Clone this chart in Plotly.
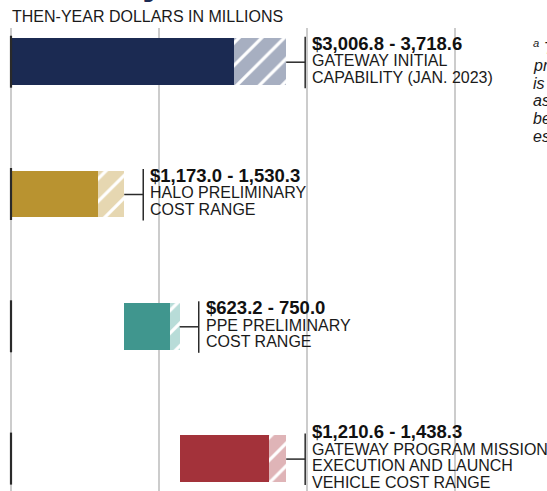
import plotly.graph_objects as go

# ---- data ----
categories = ["GATEWAY INITIAL<br>CAPABILITY (JAN. 2023)",
              "HALO PRELIMINARY<br>COST RANGE",
              "PPE PRELIMINARY<br>COST RANGE",
              "GATEWAY PROGRAM MISSION<br>EXECUTION AND LAUNCH<br>VEHICLE COST RANGE"]
low_values = [3006.8, 1173.0, 623.2, 1210.6]
high_values = [3718.6, 1530.3, 750.0, 1438.3]
value_labels = ["$3,006.8 - 3,718.6", "$1,173.0 - 1,530.3", "$623.2 - 750.0", "$1,210.6 - 1,438.3"]
grid_ticks = [0, 2000, 4000, 6000]
axis_title = "THEN-YEAR DOLLARS IN MILLIONS"
footnote_lines = ["<sup>a</sup> The", "projected", "is", "assumed", "being", "estimated"]

# bar starting points: first two start at zero, the rest stack after Halo
bar_starts = [0, 0, high_values[1], high_values[1] + high_values[2]]

solid_colors = ["#1b2a52", "#b99330", "#40968e", "#a3323a"]
hatch_colors = ["#a7afc1", "#e6d7b1", "#b8dcd8", "#dfb4b7"]

# ---- geometry (pixels) ----
W, H = 547, 491
TOP = 28
px_per_unit = 0.074
x0 = -11 / px_per_unit
x1 = (W - 11) / px_per_unit
row_px = 132.3
cy0 = 61.7
ytop = (TOP - cy0) / row_px
ybot = (H - cy0) / row_px

def u(px):
    return px / px_per_unit

def yu(px):
    return px / row_px

rows = list(range(len(categories)))
range_len = [h - l for h, l in zip(high_values, low_values)]
range_base = [s + l for s, l in zip(bar_starts, low_values)]

fig = go.Figure()
bar_w = yu(46.5)
fig.add_trace(go.Bar(
    y=rows, x=low_values, base=bar_starts, orientation="h", width=bar_w,
    marker=dict(color=solid_colors, line=dict(width=0)), showlegend=False,
    hoverinfo="skip"))
# light part of each range
fig.add_trace(go.Bar(
    y=rows, x=range_len, base=range_base, orientation="h", width=bar_w,
    marker=dict(color=hatch_colors, line=dict(width=0)),
    showlegend=False, hoverinfo="skip"))
# white hatching on top of the light part
fig.add_trace(go.Bar(
    y=rows, x=range_len, base=range_base, orientation="h", width=bar_w,
    marker=dict(color="#ffffff", line=dict(width=0),
                pattern=dict(shape="/", size=16, solidity=0.2, fillmode="replace")),
    showlegend=False, hoverinfo="skip"))

FONT = "Liberation Sans, Arial"
BOLD_SIZE = 18.5
DESC_SIZE = 16

shapes = []
annotations = []
for i in rows:
    end = bar_starts[i] + high_values[i]
    vx = end + u(19)
    # black axis segment
    shapes.append(dict(type="line", xref="x", yref="y", x0=0, x1=0,
                       y0=i - yu(26), y1=i + yu(26),
                       line=dict(color="#2a2a2a", width=2.2)))
    # connector
    shapes.append(dict(type="line", xref="x", yref="y", x0=end, x1=vx, y0=i + yu(0.5), y1=i + yu(0.5),
                       line=dict(color="#2a2a2a", width=1.5)))
    shapes.append(dict(type="line", xref="x", yref="y", x0=vx, x1=vx,
                       y0=i - yu(25), y1=i + yu(26.5),
                       line=dict(color="#2a2a2a", width=1.5)))
    desc = categories[i].split("<br>")
    n = len(desc)
    B = -2 - (3.6 + 16.6 * (n - 1)) / 2  # bold baseline relative to row centre
    tx = vx + u(6)
    annotations.append(dict(x=tx, y=i + yu(B - 0.3465 * BOLD_SIZE), xref="x", yref="y",
                            text="<b>" + value_labels[i] + "</b>", showarrow=False,
                            xanchor="left", yanchor="middle", borderpad=0,
                            font=dict(family=FONT, size=BOLD_SIZE, color="#111111")))
    for k, line in enumerate(desc):
        bl = B + 16.5 + 16.6 * k
        annotations.append(dict(x=tx, y=i + yu(bl - 0.3465 * DESC_SIZE), xref="x", yref="y",
                                text=line, showarrow=False,
                                xanchor="left", yanchor="middle", borderpad=0,
                                font=dict(family=FONT, size=DESC_SIZE, color="#1a1a1a")))

def py(px):
    return 1 - (px - TOP) / (H - TOP)

annotations.append(dict(x=11 / W, y=py(22 - 0.3465 * 16), xref="paper", yref="paper",
                        text=axis_title, showarrow=False, xanchor="left", yanchor="middle",
                        borderpad=0,
                        font=dict(family=FONT, size=16, color="#1a1a1a")))

# footnote (cut off at the right edge)
for k, line in enumerate(footnote_lines):
    bl = 53 + 17.8 * k
    annotations.append(dict(x=532 / W, y=py(bl - 0.3465 * 16), xref="paper", yref="paper",
                            text="<i>" + line + "</i>", showarrow=False, xanchor="left",
                            yanchor="middle", borderpad=0,
                            font=dict(family=FONT, size=16, color="#1a1a1a")))

# cut-off title above the chart
annotations.append(dict(x=166 / W, y=py(3), xref="paper", yref="paper",
                        text="<b>Gateway</b>", showarrow=False, xanchor="right", yanchor="bottom",
                        borderpad=0,
                        font=dict(family=FONT, size=40, color="#1b2a52")))

fig.update_layout(
    width=W, height=H,
    margin=dict(l=0, r=0, t=TOP, b=0, pad=0),
    paper_bgcolor="white", plot_bgcolor="white",
    barmode="overlay", bargap=0,
    xaxis=dict(range=[x0, x1], tickvals=grid_ticks, showticklabels=False, showgrid=True,
               gridcolor="#cccccc", gridwidth=1.5, zeroline=False, showline=False, ticks="",
               fixedrange=True),
    yaxis=dict(range=[ybot, ytop], showticklabels=False, showgrid=False, zeroline=False,
               showline=False, ticks="", fixedrange=True),
    shapes=shapes, annotations=annotations, showlegend=False,
)

fig.write_html("out.html", config={"displayModeBar": False},
               post_script="document.body.style.margin='0';document.body.style.overflow='hidden';")
